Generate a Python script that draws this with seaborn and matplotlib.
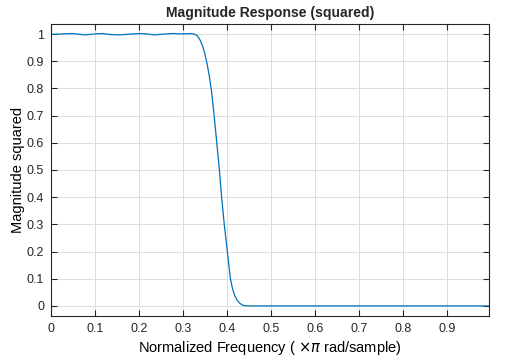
import matplotlib
matplotlib.use("Agg")
import matplotlib.pyplot as plt
import seaborn as sns
import pandas as pd

freq = [0.0, 0.02, 0.048, 0.077, 0.097, 0.116, 0.137, 0.157, 0.18, 0.202, 0.22,
        0.236, 0.257, 0.277, 0.293, 0.309, 0.318, 0.325, 0.332, 0.339, 0.345,
        0.350, 0.355, 0.360, 0.365, 0.371, 0.377, 0.383, 0.388, 0.394, 0.401, 0.408,
        0.413, 0.418, 0.424, 0.430, 0.436, 0.441, 0.46, 0.5, 0.6, 0.7, 0.8, 0.9, 0.996]
mag = [0.999, 1.000, 1.002, 0.997, 1.000, 1.002, 0.998, 0.997, 1.000, 1.002, 1.000,
       0.997, 1.000, 1.002, 1.001, 1.001, 1.002, 1.000, 0.995, 0.978, 0.955,
       0.927, 0.890, 0.845, 0.791, 0.700, 0.600, 0.500, 0.400, 0.300, 0.200, 0.100,
       0.062, 0.037, 0.019, 0.009, 0.003, 0.0005, 0.0, 0.0, 0.0, 0.0, 0.0, 0.0, 0.0]
xticks = [0, 0.1, 0.2, 0.3, 0.4, 0.5, 0.6, 0.7, 0.8, 0.9]
xticklabels = ["0", "0.1", "0.2", "0.3", "0.4", "0.5", "0.6", "0.7", "0.8", "0.9"]
yticks = [0, 0.1, 0.2, 0.3, 0.4, 0.5, 0.6, 0.7, 0.8, 0.9, 1]
yticklabels = ["0", "0.1", "0.2", "0.3", "0.4", "0.5", "0.6", "0.7", "0.8", "0.9", "1"]

sns.set_style("ticks")
plt.rcParams['font.family'] = ['Liberation Sans', 'DejaVu Sans']

df = pd.DataFrame({"f": freq, "m": mag})
fig = plt.figure(figsize=(5.27, 3.61), dpi=100)
ax = fig.add_axes([0.0968, 0.1247, 0.831, 0.8088])
sns.lineplot(data=df, x="f", y="m", ax=ax, color="#0072BD", linewidth=0.9)

ax.set_xlim(0, 0.996)
ax.set_ylim(-0.037, 1.037)
ax.set_xticks(xticks)
ax.set_xticklabels(xticklabels)
ax.set_yticks(yticks)
ax.set_yticklabels(yticklabels)
ax.grid(True, color="#dcdcdc", linewidth=0.7)
ax.set_axisbelow(True)
dark = "#262626"
for s in ax.spines.values():
    s.set_visible(True)
    s.set_color(dark)
    s.set_linewidth(0.8)
ax.tick_params(direction="in", length=4, width=0.8, colors=dark, labelsize=9,
               top=True, right=True, pad=5)
ax.set_xlabel("Normalized Frequency ( $\\times\\pi$ rad/sample)", fontsize=10.5, color="black", labelpad=3)
ax.set_ylabel("Magnitude squared", fontsize=10.5, color="black", labelpad=1)
ax.set_title("Magnitude Response (squared)", fontsize=10.1, fontweight="bold", pad=5)
fig.savefig("out.png", dpi=100)
